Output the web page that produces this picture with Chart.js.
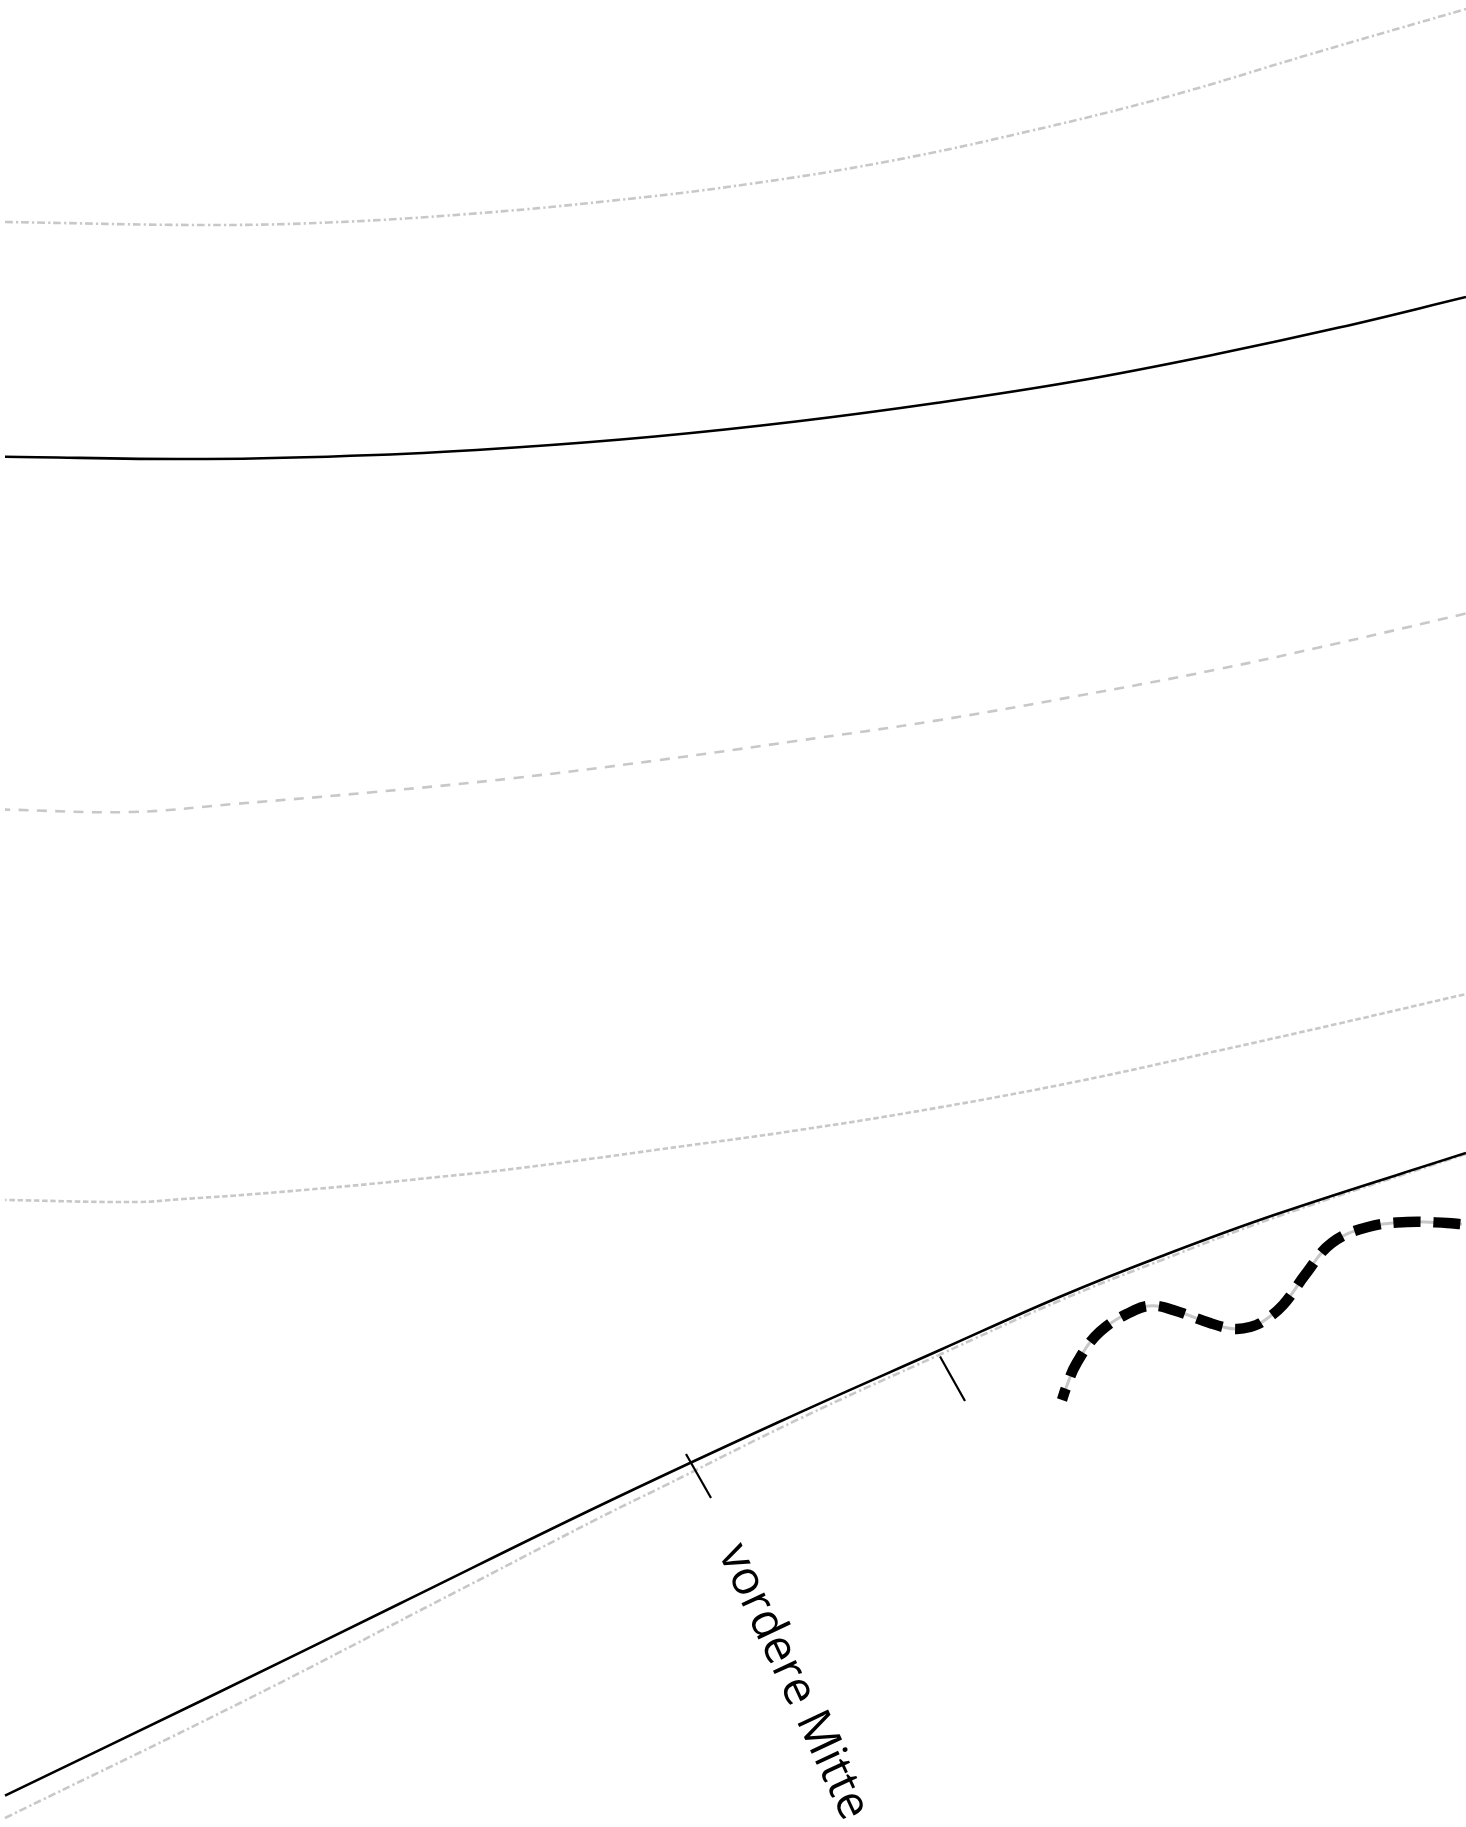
<!DOCTYPE html>
<html>
<head>
<meta charset="utf-8">
<title>vordere Mitte</title>
<script src="https://cdn.jsdelivr.net/npm/chart.js@4/dist/chart.umd.min.js"></script>
<style>
  html, body { margin: 0; padding: 0; background: #fff; }
  canvas { display: block; }
</style>
</head>
<body>
<canvas id="schnitt" width="1466" height="1827"></canvas>
<script>
const topX = [5, 206, 328, 468, 609, 749, 890, 1030, 1170, 1311, 1466];
const topY = [222, 225, 222.5, 214, 201, 184, 161, 131, 96, 54, 9];

const upperX = [5, 206, 375, 515, 655, 796, 936, 1077, 1217, 1339, 1466];
const upperY = [456.7, 459, 455, 447.5, 436.5, 421.5, 403, 381, 354, 327.6, 297];

const dashedX = [5, 131, 234, 375, 515, 655, 796, 936, 1077, 1217, 1339, 1466];
const dashedY = [809.6, 812, 804, 792, 778, 760.6, 741, 720.6, 696, 669.5, 643, 613.5];

const dottedX = [5, 137, 183, 233, 300, 367, 433, 500, 597, 655, 796, 936, 1077, 1217, 1339, 1466];
const dottedY = [1200, 1202, 1199, 1195.7, 1190.3, 1184.3, 1177.5, 1170.5, 1158, 1150, 1130.5, 1108, 1081.5, 1051, 1023.5, 994];

const frontX = [5, 203, 400, 600, 781, 940, 1060, 1160, 1277, 1466];
const frontY = [1795.7, 1700, 1603.5, 1505.5, 1421, 1350, 1296.7, 1256.7, 1214, 1153];

const frontGuideX = [5, 240, 450, 600, 662, 800, 940, 1060, 1160, 1277, 1466];
const frontGuideY = [1818, 1703, 1595, 1517.5, 1487, 1418.5, 1354.5, 1300.5, 1260.7, 1216.7, 1154];

const waveX = [1062, 1066, 1076.7, 1100, 1135, 1153, 1173, 1210, 1225, 1237, 1250, 1262, 1283, 1305.7, 1331.7, 1368, 1407, 1447, 1462];
const waveY = [1400, 1388, 1363, 1331.7, 1310, 1305.7, 1310, 1323, 1327.5, 1329, 1327, 1322, 1305, 1274, 1243, 1227, 1222, 1223, 1224.3];

const tickOneX = [686, 711];
const tickOneY = [1454, 1498];
const tickTwoX = [940, 965];
const tickTwoY = [1356.5, 1401];

const labelText = "vordere Mitte";
const labelX = 718;
const labelY = 1552.7;

const GRAY = "#c8c8c8";
const BLACK = "#000000";

function toPoints(xs, ys) {
  return xs.map((x, i) => ({ x: x, y: ys[i] }));
}

function lineSet(name, xs, ys, color, width, dash, dashOffset, tension) {
  return {
    label: name,
    data: toPoints(xs, ys),
    showLine: true,
    borderColor: color,
    borderWidth: width,
    borderDash: dash || [],
    borderDashOffset: dashOffset || 0,
    tension: tension === undefined ? 0.4 : tension,
    pointRadius: 0,
    pointHoverRadius: 0,
    fill: false
  };
}

// schreibt die Beschriftung entlang der Markierung
const labelPlugin = {
  id: "labelPlugin",
  afterDatasetsDraw(chart) {
    const ctx = chart.ctx;
    ctx.save();
    ctx.translate(chart.scales.x.getPixelForValue(labelX), chart.scales.y.getPixelForValue(labelY));
    ctx.rotate(65 * Math.PI / 180);
    ctx.font = '47px "Open Sans"';
    ctx.fillStyle = BLACK;
    ctx.textBaseline = "alphabetic";
    ctx.fillText(labelText, 0, 0);
    ctx.restore();
  }
};

new Chart(document.getElementById("schnitt").getContext("2d"), {
  type: "scatter",
  data: {
    datasets: [
      lineSet("wave", waveX, waveY, BLACK, 10.5, [27, 13], 15),
      lineSet("waveGuide", waveX, waveY, GRAY, 3),
      lineSet("tickOne", tickOneX, tickOneY, BLACK, 2.2, [], 0, 0),
      lineSet("tickTwo", tickTwoX, tickTwoY, BLACK, 2.2, [], 0, 0),
      lineSet("front", frontX, frontY, BLACK, 2.6),
      lineSet("frontGuide", frontGuideX, frontGuideY, GRAY, 2.6, [7.7, 3.2, 2.3, 2.8]),
      lineSet("upper", upperX, upperY, BLACK, 2.6),
      lineSet("top", topX, topY, GRAY, 2.6, [7.7, 3.2, 2.3, 2.8]),
      lineSet("dashed", dashedX, dashedY, GRAY, 2.6, [10, 8.4], 5),
      lineSet("dotted", dottedX, dottedY, GRAY, 2.6, [5.5, 2.7], 4)
    ]
  },
  options: {
    responsive: false,
    animation: false,
    layout: { padding: 0 },
    scales: {
      x: { type: "linear", min: 0, max: 1466, display: false },
      y: { type: "linear", min: 0, max: 1827, reverse: true, display: false }
    },
    plugins: { legend: { display: false }, tooltip: { enabled: false } }
  },
  plugins: [labelPlugin]
});
</script>
</body>
</html>
